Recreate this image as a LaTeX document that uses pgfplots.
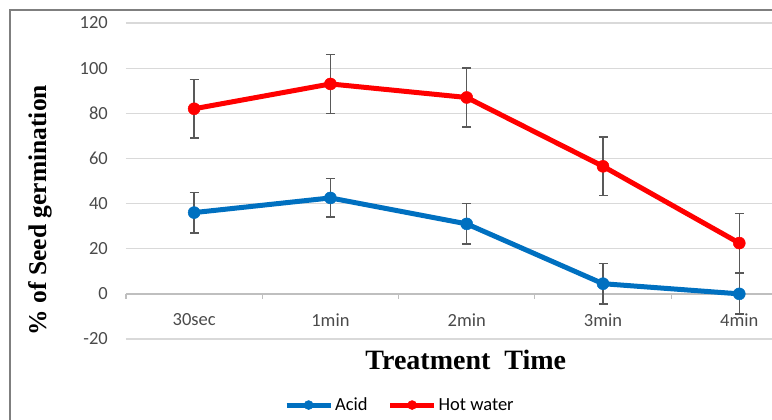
\documentclass[border=0pt]{standalone}
\usepackage{pgfplots}
\pgfplotsset{compat=1.18}
\usepackage{fontspec}
\setmainfont{Carlito}
\newfontfamily\tnr{Liberation Serif}
\definecolor{acid}{HTML}{0070C0}
\definecolor{hot}{HTML}{FF0000}
\definecolor{errc}{HTML}{595959}
\definecolor{gridc}{HTML}{D9D9D9}
\definecolor{axc}{HTML}{BFBFBF}
\definecolor{framec}{HTML}{7F7F7F}
\definecolor{tickc}{HTML}{4A4A4A}
\begin{document}
\begin{tikzpicture}
\path[use as bounding box] (-126pt,-81pt) rectangle (646pt,339pt);
\draw[color=framec, line width=1.2pt] (-116pt,-85pt) -- (-116pt,329pt) -- (650pt,329pt);
\begin{axis}[
  scale only axis, width=646pt, height=316pt,
  xmin=-0.5, xmax=4.24, ymin=-20, ymax=120,
  ytick={-20,0,20,40,60,80,100,120},
  xtick={0,1,2,3,4}, xticklabels={30sec,1min,2min,3min,4min},
  /pgf/number format/assume math mode=true,
  axis line style={draw=none},
  major tick length=0pt,
  ymajorgrids, grid style={gridc, line width=1.2pt},
  ticklabel style={font=\fontsize{18.5}{21}\selectfont, text=tickc},
  yticklabel style={anchor=east, inner sep=0pt, xshift=-18pt},
  xticklabel style={anchor=center, inner sep=0pt, yshift=19pt},
  xlabel={\tnr\bfseries Treatment\ \ Time},
  xlabel style={at={(axis description cs:0.526,-0.066)}, anchor=center, font=\fontsize{28}{30}\selectfont},
  ylabel={\tnr\bfseries \% of Seed germination},
  ylabel style={at={(axis description cs:-0.133,0.408)}, anchor=center, font=\fontsize{25.5}{27}\selectfont},
  legend columns=2,
  legend style={at={(axis description cs:0.424,-0.209)}, anchor=center, draw=none, fill=none,
     font=\fontsize{18.5}{21}\selectfont, text=black,
     /tikz/every even column/.append style={column sep=18pt}},
  legend image code/.code={\draw[mark repeat=2,mark phase=2,mark size=4.5pt] plot coordinates {(0pt,0pt) (22pt,0pt) (44pt,0pt)};},
  clip=false,
]
\draw[axc, line width=1.4pt] (axis cs:-0.5,0) -- (axis cs:4.24,0);
\pgfplotsinvokeforeach{-0.5,0.5,1.5,2.5,3.5}{\draw[axc, line width=1.2pt] (axis cs:#1,0) -- ([yshift=-5pt]axis cs:#1,0);}
\addplot[acid, line width=5pt, mark=*, mark size=6pt, mark options={solid, fill=acid, draw=acid, line width=0.5pt},
  error bars/.cd, y dir=both, y explicit,
  error bar style={errc, line width=1.5pt},
  error mark options={rotate=90, mark size=4.5pt, line width=1.5pt, errc}]
  coordinates {
  (0,36) +- (0,9)
  (1,42.5) +- (0,8.5)
  (2,31) +- (0,9)
  (3,4.5) +- (0,9)
  (4,0) +- (0,9)
  };
\addlegendentry{Acid}
\addplot[hot, line width=5pt, mark=*, mark size=6pt, mark options={solid, fill=hot, draw=hot, line width=0.5pt},
  error bars/.cd, y dir=both, y explicit,
  error bar style={errc, line width=1.5pt},
  error mark options={rotate=90, mark size=4.5pt, line width=1.5pt, errc}]
  coordinates {
  (0,82) +- (0,13)
  (1,93) +- (0,13)
  (2,87) +- (0,13)
  (3,56.5) +- (0,13)
  (4,22.5) +- (0,13)
  };
\addlegendentry{Hot water}
\end{axis}
\end{tikzpicture}
\end{document}
